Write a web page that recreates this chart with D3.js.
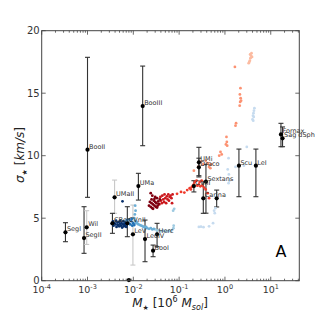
<!DOCTYPE html>
<html>
<head>
<meta charset="utf-8">
<script src="https://cdn.jsdelivr.net/npm/d3@7"></script>
<style>
body { margin:0; background:#fff; }
svg text { font-family: "DejaVu Sans", sans-serif; }
</style>
</head>
<body>
<svg width="332" height="312"></svg>
<script>
// simulation tracks, one array per colour  [M (1e6 Msol), sigma (km/s)]
var navy = [[0.0034,4.55],[0.0036,4.75],[0.0037,4.4],[0.0039,4.6],[0.0041,4.5],[0.0042,4.8],[0.0043,4.3],[0.0045,4.65],[0.0046,4.45],[0.0048,4.7],[0.0049,4.35],[0.0051,4.55],[0.0052,4.8],[0.0054,4.4],[0.0055,4.6],[0.0057,4.25],[0.0059,4.5],[0.006,4.75],[0.0062,4.35],[0.0064,4.55],[0.0066,4.4],[0.0068,4.6],[0.007,4.3],[0.0072,4.5],[0.0058,6.35]];
var blue = [[0.0065,4.7],[0.0072,4.85],[0.0078,4.65],[0.0082,4.9],[0.0086,4.5],[0.009,4.75],[0.0095,4.4],[0.0093,4.95],[0.01,4.6],[0.0105,4.45]];
var midBlue = [[0.0105,5.0],[0.011,4.8],[0.0115,4.6],[0.012,4.7],[0.0125,4.55],[0.013,4.5],[0.014,4.45],[0.015,4.4],[0.016,4.35],[0.017,4.3],[0.018,4.25],[0.019,4.3],[0.02,4.2],[0.022,4.15],[0.024,4.2],[0.026,4.1],[0.028,4.15],[0.011,6.0],[0.0112,5.6],[0.0108,5.3]];
var lightBlue = [[0.03,4.1],[0.033,4.0],[0.036,4.05],[0.04,3.95],[0.045,4.0],[0.05,3.95],[0.055,3.95],[0.06,4.0],[0.065,3.95],[0.07,4.05],[0.075,4.2],[0.076,4.4],[0.074,5.6],[0.078,5.75]];
var paleBlue = [[0.27,4.3],[0.3,4.32],[0.34,4.28],[0.45,4.35],[0.55,4.6],[0.6,5.4],[0.62,5.8],[0.58,5.6],[1.2,7.8],[1.25,8.0],[1.3,8.1],[1.22,8.5],[1.15,8.9],[1.2,9.8],[1.7,9.1],[2.6,9.2],[3.0,10.7],[4.0,12.9],[4.1,13.2],[4.2,13.4],[4.3,13.6],[4.25,13.1],[4.4,13.8],[4.15,12.8]];
var darkRed = [[0.022,6.0],[0.023,6.3],[0.024,5.9],[0.025,6.2],[0.025,6.5],[0.026,5.8],[0.027,6.1],[0.028,6.4],[0.029,6.0],[0.03,6.3],[0.031,5.9],[0.032,6.2],[0.033,6.6],[0.034,6.0],[0.035,6.35],[0.036,6.15],[0.038,6.5],[0.024,7.0],[0.026,6.8],[0.03,6.7],[0.027,5.75],[0.033,5.85],[0.029,6.55]];
var red = [[0.037,6.1],[0.039,6.7],[0.04,6.4],[0.042,6.2],[0.043,6.8],[0.045,6.5],[0.047,6.3],[0.048,6.9],[0.05,6.6],[0.052,6.2],[0.054,6.75],[0.056,6.5],[0.058,6.9],[0.06,6.4],[0.062,6.7],[0.065,6.8],[0.068,6.6],[0.07,6.2],[0.072,6.9]];
var orangeRed = [[0.09,6.95],[0.11,7.1],[0.13,7.05],[0.15,7.25],[0.17,7.4],[0.19,7.5],[0.21,7.7],[0.22,7.9],[0.24,8.0],[0.25,7.6],[0.27,7.7],[0.29,7.55],[0.32,7.6],[0.35,7.45],[0.38,7.3],[0.42,7.0],[0.45,6.6],[0.18,7.3],[0.2,7.6],[0.28,7.9],[0.31,8.0]];
var salmon = [[0.21,8.8],[0.26,9.1],[0.3,9.5],[0.33,9.3],[0.38,9.6],[0.42,9.4],[0.45,9.1],[0.5,9.3],[0.48,9.0],[0.75,10.0],[0.8,10.3],[0.85,10.1],[1.05,10.9],[1.1,11.1],[1.08,11.5],[1.12,10.8],[1.7,12.4],[1.75,12.6],[1.65,17.1],[2.1,14.0],[2.15,14.3],[2.2,14.6],[2.12,14.9],[2.18,15.4],[2.25,14.4]];
var paleRed = [[3.3,17.4],[3.5,17.6],[3.6,17.8],[3.7,18.0],[3.8,18.2],[3.4,17.5],[3.9,17.9],[3.55,18.1]];

// observed dwarfs
var galNames = ["Segl","SegII","Wil","BooII","BooIII","UMaII","UMa","CBer","CVnII","LeV","LeoIV","Herc","BooI","UMi","Draco","CVnI","Sextans","Carina","","Scu","LeI","Fornax","Sag dSph",""];
var galMass  = [3.3e-4,8.4e-4,9.6e-4,1.0e-3,0.016,0.0039,0.0129,0.0035,0.0074,0.0098,0.018,0.033,0.027,0.27,0.27,0.21,0.385,0.337,0.66,2.02,4.74,16.7,18.1,0.008];
var galSigma = [3.87,3.41,4.27,10.48,13.97,6.67,7.57,4.59,4.59,3.71,3.33,3.71,2.4,9.47,9.07,7.57,7.92,6.59,6.59,9.2,9.2,11.7,11.39,0.05];
var galLo    = [3.12,2.19,2.9,6.67,10.8,5.39,6.45,3.79,3.52,1.25,1.52,2.72,1.92,8.4,8.3,7.1,5.4,5.39,5.9,6.72,6.72,10.72,10.72,0.05];
var galHi    = [4.64,5.92,5.6,17.87,17.17,8.05,8.59,5.39,5.92,6.05,4.85,4.59,2.85,10.67,9.8,8.0,9.3,7.92,7.25,10.53,10.53,12.59,12.3,0.05];
var galGrey  = [0,0,1,0,0,1,0,0,0,1,0,0,0,0,0,0,0,0,0,0,0,0,0,0];

var xTicks = [1e-4,1e-3,1e-2,1e-1,1,10];
var xTickExp = ["-4","-3","-2","-1","0","1"];
var yTicks = [0,5,10,15,20];

var svg = d3.select("svg");
var pLeft = 41.7, pRight = 299.3, pTop = 30.7, pBottom = 280.7;

var x = d3.scaleLog().domain([1e-4, 42]).range([pLeft, pRight]);
var y = d3.scaleLinear().domain([0, 20]).range([pBottom, pTop]);

var series = [
  [paleBlue, "#c6dbef"], [lightBlue, "#9ecae1"], [midBlue, "#6baed6"], [blue, "#2171b5"], [navy, "#08306b"],
  [paleRed, "#fcbba1"], [salmon, "#fc9272"], [orangeRed, "#ef3b2c"], [red, "#cb181d"], [darkRed, "#7f0010"]
];

// error bars
var gal = galNames.map(function(n, i) {
  return {name:n, m:galMass[i], s:galSigma[i], lo:galLo[i], hi:galHi[i], grey:galGrey[i]};
});

var eb = svg.append("g").selectAll("g").data(gal.filter(function(d){ return d.hi > d.lo; }))
  .enter().append("g")
  .attr("stroke", function(d){ return d.grey ? "#c8c8c8" : "#333"; })
  .attr("stroke-width", 1.1);
eb.append("line")
  .attr("x1", function(d){ return x(d.m); }).attr("x2", function(d){ return x(d.m); })
  .attr("y1", function(d){ return y(d.lo); }).attr("y2", function(d){ return y(d.hi); });
eb.append("line")
  .attr("x1", function(d){ return x(d.m)-2.5; }).attr("x2", function(d){ return x(d.m)+2.5; })
  .attr("y1", function(d){ return y(d.lo); }).attr("y2", function(d){ return y(d.lo); });
eb.append("line")
  .attr("x1", function(d){ return x(d.m)-2.5; }).attr("x2", function(d){ return x(d.m)+2.5; })
  .attr("y1", function(d){ return y(d.hi); }).attr("y2", function(d){ return y(d.hi); });

// simulation points
series.forEach(function(s) {
  svg.append("g").selectAll("circle").data(s[0]).enter().append("circle")
    .attr("cx", function(d){ return x(d[0]); })
    .attr("cy", function(d){ return y(d[1]); })
    .attr("r", 1.4)
    .attr("fill", s[1]);
});

// observed points
svg.append("g").selectAll("circle").data(gal).enter().append("circle")
  .attr("cx", function(d){ return x(d.m); })
  .attr("cy", function(d){ return y(d.s); })
  .attr("r", 2.1)
  .attr("fill", "#000");

// tiny rotation keeps the small labels in grey antialiasing
svg.append("g").attr("transform", "rotate(0.01)").selectAll("text").data(gal).enter().append("text")
  .attr("x", function(d){ return x(d.m) + 1.5; })
  .attr("y", function(d){ return y(d.s) - 1; })
  .attr("font-size", 6.5)
  .attr("fill", "#333")
  .text(function(d){ return d.name; });

// frame
svg.append("rect")
  .attr("x", pLeft).attr("y", pTop)
  .attr("width", pRight-pLeft).attr("height", pBottom-pTop)
  .attr("fill", "none").attr("stroke", "#444").attr("stroke-width", 1);

// ticks (inward, both sides)
var minor = [];
xTicks.forEach(function(t) {
  for (var k = 2; k <= 9; k++) { if (t*k <= 42) minor.push(t*k); }
});
var tk = svg.append("g").attr("stroke", "#444").attr("stroke-width", 0.8);
tk.selectAll(".mx").data(xTicks).enter().append("line")
  .attr("x1", function(d){ return x(d); }).attr("x2", function(d){ return x(d); })
  .attr("y1", pBottom).attr("y2", pBottom-4);
tk.selectAll(".mxt").data(xTicks).enter().append("line")
  .attr("x1", function(d){ return x(d); }).attr("x2", function(d){ return x(d); })
  .attr("y1", pTop).attr("y2", pTop+4);
tk.selectAll(".nx").data(minor).enter().append("line")
  .attr("x1", function(d){ return x(d); }).attr("x2", function(d){ return x(d); })
  .attr("y1", pBottom).attr("y2", pBottom-2);
tk.selectAll(".nxt").data(minor).enter().append("line")
  .attr("x1", function(d){ return x(d); }).attr("x2", function(d){ return x(d); })
  .attr("y1", pTop).attr("y2", pTop+2);
tk.selectAll(".my").data(yTicks).enter().append("line")
  .attr("x1", pLeft).attr("x2", pLeft+4)
  .attr("y1", function(d){ return y(d); }).attr("y2", function(d){ return y(d); });
tk.selectAll(".myr").data(yTicks).enter().append("line")
  .attr("x1", pRight).attr("x2", pRight-4)
  .attr("y1", function(d){ return y(d); }).attr("y2", function(d){ return y(d); });

// tick labels
svg.append("g").selectAll("text").data(yTicks).enter().append("text")
  .attr("x", pLeft-2).attr("y", function(d){ return y(d)+3.5; })
  .attr("text-anchor", "end").attr("font-size", 10).attr("fill", "#333")
  .text(function(d){ return d; });

var xl = svg.append("g").selectAll("text").data(xTicks).enter().append("text")
  .attr("x", function(d){ return x(d); }).attr("y", pBottom+12)
  .attr("text-anchor", "middle").attr("font-size", 9.5).attr("fill", "#333");
xl.append("tspan").text("10");
xl.append("tspan").attr("dy", -4).attr("font-size", 6.5).text(function(d, i){ return xTickExp[i]; });

// axis labels
var xlab = svg.append("text").attr("x", 170).attr("y", 307).attr("text-anchor", "middle")
  .attr("font-family", "DejaVu Serif").attr("font-size", 12).attr("fill", "#222");
xlab.append("tspan").attr("font-style", "italic").text("M");
xlab.append("tspan").attr("dy", 3).attr("font-size", 7).text("★");
xlab.append("tspan").attr("dy", -3).text(" [10");
xlab.append("tspan").attr("dy", -5).attr("font-size", 8).text("6");
xlab.append("tspan").attr("dy", 5).attr("font-style", "italic").text(" M");
xlab.append("tspan").attr("dy", 3).attr("font-size", 8).attr("font-style", "italic").text("sol");
xlab.append("tspan").attr("dy", -3).text("]");

var ylab = svg.append("text").attr("transform", "translate(24,155) rotate(-90)").attr("text-anchor", "middle")
  .attr("font-family", "DejaVu Serif").attr("font-size", 12).attr("fill", "#222");
ylab.append("tspan").attr("font-style", "italic").text("σ");
ylab.append("tspan").attr("dy", 3).attr("font-size", 7).text("★");
ylab.append("tspan").attr("dy", -3).text(" [");
ylab.append("tspan").attr("font-style", "italic").text("km/s");
ylab.append("tspan").text("]");

svg.append("text").attr("x", 281).attr("y", 257).attr("text-anchor", "middle")
  .attr("font-size", 16).attr("fill", "#000").text("A");
</script>
</body>
</html>
